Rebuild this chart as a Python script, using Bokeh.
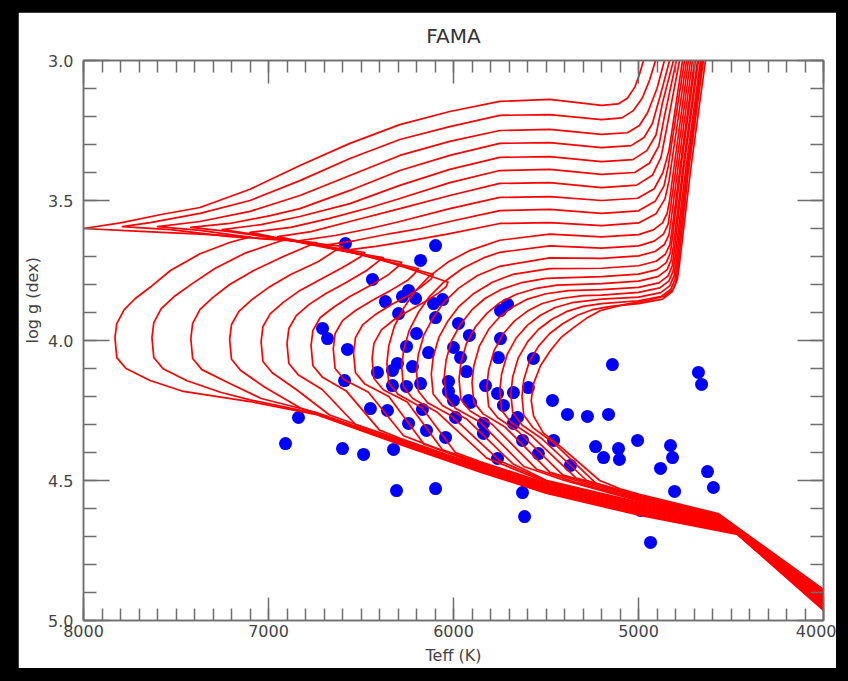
from bokeh.plotting import figure
from bokeh.models import (Range1d, LinearAxis, FixedTicker, NumeralTickFormatter,
                          BasicTickFormatter, CustomJSTickFormatter, Title,
                          GlobalInlineStyleSheet)
from bokeh.embed import file_html
from bokeh.resources import INLINE

# ---------------- data: isochrones (Teff [K], log g [dex]) ----------------
iso01_teff = [4000, 4465, 4990, 5500, 5850, 6290, 6740, 7100, 7460, 7640, 7770, 7820, 7830, 7820, 7780, 7720, 7640, 7530, 7370, 7210, 7100, 7370, 7690, 8000, 7800, 7580, 7370, 7100, 6830, 6560, 6290, 6020, 5750, 5480, 5200, 5110, 5060, 5020, 4995, 4973, 4955]
iso01_logg = [4.964, 4.693, 4.625, 4.545, 4.471, 4.371, 4.265, 4.218, 4.182, 4.143, 4.100, 4.061, 3.990, 3.940, 3.890, 3.850, 3.810, 3.750, 3.690, 3.650, 3.630, 3.620, 3.610, 3.600, 3.580, 3.550, 3.525, 3.460, 3.375, 3.296, 3.229, 3.182, 3.146, 3.139, 3.160, 3.155, 3.135, 3.095, 3.050, 3.000, 2.900]
iso02_teff = [4000, 4470, 4990, 5500, 5850, 6290, 6740, 7100, 7260, 7440, 7570, 7620, 7630, 7620, 7580, 7510, 7410, 7290, 7130, 6960, 6910, 7210, 7530, 7790, 7640, 7370, 7100, 6830, 6560, 6290, 6020, 5750, 5480, 5200, 5090, 5030, 4980, 4940, 4908, 4885]
iso02_logg = [4.960, 4.689, 4.621, 4.541, 4.467, 4.367, 4.261, 4.212, 4.185, 4.144, 4.101, 4.061, 3.990, 3.936, 3.886, 3.843, 3.796, 3.743, 3.689, 3.650, 3.640, 3.629, 3.604, 3.593, 3.579, 3.546, 3.500, 3.429, 3.350, 3.282, 3.236, 3.196, 3.193, 3.211, 3.205, 3.180, 3.135, 3.070, 3.000, 2.900]
iso03_teff = [4000, 4475, 4990, 5500, 5850, 6290, 6740, 7040, 7220, 7360, 7410, 7420, 7410, 7370, 7300, 7210, 7080, 6920, 6780, 6740, 7050, 7370, 7600, 7370, 7100, 6830, 6560, 6290, 6020, 5750, 5480, 5200, 5060, 4995, 4950, 4900, 4860, 4840]
iso03_logg = [4.957, 4.686, 4.618, 4.538, 4.463, 4.363, 4.257, 4.207, 4.150, 4.104, 4.064, 3.993, 3.939, 3.889, 3.846, 3.800, 3.750, 3.700, 3.661, 3.650, 3.636, 3.607, 3.593, 3.575, 3.539, 3.482, 3.411, 3.339, 3.289, 3.250, 3.246, 3.264, 3.258, 3.232, 3.185, 3.100, 3.000, 2.900]
iso04_teff = [4000, 4480, 4990, 5500, 5850, 6290, 6830, 7020, 7150, 7200, 7210, 7200, 7160, 7090, 7000, 6880, 6730, 6640, 6600, 6880, 7210, 7420, 7210, 6990, 6830, 6560, 6290, 6020, 5750, 5480, 5200, 5040, 4970, 4925, 4880, 4832, 4812]
iso04_logg = [4.953, 4.682, 4.614, 4.534, 4.460, 4.360, 4.240, 4.167, 4.107, 4.067, 3.996, 3.943, 3.896, 3.854, 3.811, 3.764, 3.718, 3.679, 3.664, 3.643, 3.611, 3.596, 3.582, 3.554, 3.529, 3.464, 3.393, 3.339, 3.296, 3.293, 3.311, 3.304, 3.275, 3.225, 3.120, 3.000, 2.900]
iso05_teff = [4000, 4485, 4990, 5500, 5850, 6290, 6670, 6850, 6980, 7030, 7040, 7030, 6990, 6920, 6830, 6710, 6590, 6500, 6480, 6720, 7040, 7250, 7040, 6830, 6560, 6290, 6020, 5750, 5480, 5200, 5030, 4955, 4905, 4870, 4811, 4791]
iso05_logg = [4.950, 4.679, 4.611, 4.531, 4.456, 4.356, 4.266, 4.175, 4.115, 4.075, 4.004, 3.950, 3.904, 3.864, 3.821, 3.779, 3.736, 3.700, 3.686, 3.661, 3.625, 3.604, 3.586, 3.557, 3.511, 3.446, 3.389, 3.346, 3.343, 3.361, 3.354, 3.322, 3.265, 3.150, 3.000, 2.900]
iso06_teff = [4000, 4490, 4990, 5500, 5850, 6290, 6530, 6710, 6840, 6890, 6900, 6890, 6850, 6780, 6690, 6580, 6470, 6400, 6380, 6610, 6910, 7100, 6880, 6670, 6450, 6290, 6020, 5750, 5480, 5200, 5020, 4940, 4890, 4860, 4795, 4775]
iso06_logg = [4.946, 4.675, 4.607, 4.527, 4.453, 4.353, 4.300, 4.175, 4.122, 4.082, 4.011, 3.957, 3.911, 3.871, 3.832, 3.793, 3.750, 3.714, 3.704, 3.679, 3.639, 3.614, 3.596, 3.564, 3.525, 3.493, 3.436, 3.393, 3.389, 3.407, 3.400, 3.366, 3.305, 3.200, 3.000, 2.900]
iso07_teff = [4000, 4495, 4990, 5500, 5850, 6290, 6400, 6580, 6710, 6760, 6770, 6760, 6720, 6650, 6560, 6450, 6350, 6300, 6280, 6500, 6770, 6950, 6770, 6560, 6290, 6020, 5750, 5480, 5200, 5010, 4925, 4878, 4850, 4778, 4758]
iso07_logg = [4.943, 4.672, 4.604, 4.524, 4.449, 4.349, 4.320, 4.180, 4.130, 4.090, 4.018, 3.964, 3.918, 3.882, 3.843, 3.804, 3.764, 3.736, 3.721, 3.693, 3.654, 3.629, 3.611, 3.575, 3.529, 3.482, 3.439, 3.436, 3.454, 3.445, 3.410, 3.345, 3.250, 3.000, 2.900]
iso08_teff = [4000, 4500, 4990, 5500, 5850, 6270, 6460, 6590, 6640, 6650, 6640, 6600, 6530, 6440, 6340, 6250, 6210, 6190, 6400, 6640, 6830, 6640, 6450, 6290, 6020, 5750, 5480, 5200, 5005, 4915, 4868, 4835, 4762, 4742]
iso08_logg = [4.939, 4.668, 4.600, 4.520, 4.446, 4.340, 4.185, 4.140, 4.100, 4.030, 3.975, 3.929, 3.893, 3.857, 3.821, 3.786, 3.761, 3.743, 3.711, 3.671, 3.643, 3.625, 3.600, 3.575, 3.529, 3.489, 3.486, 3.500, 3.492, 3.458, 3.400, 3.320, 3.000, 2.900]
iso09_teff = [4000, 4505, 4990, 5500, 5850, 6160, 6350, 6480, 6530, 6540, 6530, 6490, 6420, 6330, 6240, 6170, 6120, 6110, 6290, 6530, 6710, 6530, 6340, 6180, 6020, 5750, 5480, 5200, 5000, 4910, 4862, 4840, 4751, 4731]
iso09_logg = [4.935, 4.665, 4.596, 4.516, 4.442, 4.370, 4.200, 4.155, 4.115, 4.045, 3.990, 3.943, 3.906, 3.870, 3.838, 3.806, 3.780, 3.764, 3.732, 3.686, 3.661, 3.643, 3.618, 3.600, 3.575, 3.536, 3.532, 3.546, 3.537, 3.503, 3.448, 3.380, 3.000, 2.900]
iso10_teff = [4000, 4510, 4990, 5500, 5850, 6060, 6250, 6380, 6430, 6440, 6430, 6390, 6320, 6230, 6150, 6080, 6040, 6030, 6180, 6420, 6600, 6420, 6230, 6020, 5750, 5480, 5200, 5000, 4905, 4857, 4835, 4740, 4720]
iso10_logg = [4.932, 4.661, 4.593, 4.513, 4.438, 4.390, 4.220, 4.176, 4.136, 4.065, 4.010, 3.962, 3.925, 3.889, 3.860, 3.830, 3.808, 3.792, 3.757, 3.704, 3.679, 3.664, 3.643, 3.618, 3.582, 3.579, 3.590, 3.580, 3.547, 3.494, 3.430, 3.000, 2.900]
iso11_teff = [4000, 4515, 4990, 5500, 5850, 5990, 6170, 6300, 6350, 6360, 6350, 6320, 6270, 6210, 6130, 6030, 5910, 5750, 5480, 5200, 5000, 4920, 4870, 4845, 4832, 4812, 4771, 4730, 4710]
iso11_logg = [4.928, 4.657, 4.589, 4.509, 4.434, 4.400, 4.240, 4.192, 4.151, 4.080, 4.020, 3.950, 3.885, 3.826, 3.770, 3.720, 3.678, 3.642, 3.620, 3.630, 3.622, 3.605, 3.580, 3.545, 3.500, 3.400, 3.200, 3.000, 2.900]
iso12_teff = [4000, 4520, 4990, 5500, 5820, 6090, 6220, 6270, 6280, 6270, 6240, 6190, 6130, 6050, 5950, 5830, 5750, 5480, 5200, 5000, 4915, 4865, 4840, 4830, 4801, 4760, 4719, 4699]
iso12_logg = [4.925, 4.654, 4.586, 4.506, 4.420, 4.255, 4.207, 4.166, 4.095, 4.035, 3.965, 3.900, 3.843, 3.790, 3.742, 3.703, 3.685, 3.662, 3.670, 3.662, 3.645, 3.620, 3.585, 3.540, 3.400, 3.200, 3.000, 2.900]
iso13_teff = [4000, 4525, 4990, 5500, 5750, 6010, 6140, 6190, 6200, 6190, 6160, 6110, 6050, 5970, 5870, 5750, 5480, 5200, 5000, 4910, 4860, 4835, 4825, 4790, 4749, 4708, 4688]
iso13_logg = [4.921, 4.650, 4.582, 4.502, 4.430, 4.270, 4.222, 4.181, 4.110, 4.050, 3.980, 3.918, 3.862, 3.812, 3.768, 3.735, 3.705, 3.707, 3.698, 3.682, 3.657, 3.622, 3.575, 3.400, 3.200, 3.000, 2.900]
iso14_teff = [4000, 4530, 4990, 5500, 5680, 5930, 6060, 6110, 6120, 6110, 6080, 6030, 5970, 5890, 5790, 5680, 5480, 5200, 5000, 4905, 4855, 4830, 4820, 4779, 4738, 4697, 4677]
iso14_logg = [4.918, 4.646, 4.579, 4.499, 4.440, 4.280, 4.232, 4.191, 4.120, 4.060, 3.990, 3.930, 3.878, 3.832, 3.792, 3.764, 3.743, 3.742, 3.733, 3.717, 3.692, 3.657, 3.610, 3.400, 3.200, 3.000, 2.900]
iso15_teff = [4000, 4535, 4990, 5400, 5620, 5860, 5990, 6040, 6050, 6040, 6010, 5960, 5900, 5830, 5740, 5630, 5500, 5200, 5000, 4900, 4850, 4828, 4818, 4774, 4733, 4692, 4672]
iso15_logg = [4.914, 4.643, 4.575, 4.500, 4.450, 4.290, 4.242, 4.201, 4.130, 4.070, 4.000, 3.940, 3.890, 3.850, 3.817, 3.793, 3.778, 3.772, 3.763, 3.747, 3.722, 3.687, 3.640, 3.400, 3.200, 3.000, 2.900]
iso16_teff = [4000, 4540, 4990, 5350, 5550, 5790, 5910, 5960, 5970, 5960, 5930, 5880, 5820, 5750, 5660, 5560, 5440, 5200, 5000, 4895, 4845, 4823, 4812, 4763, 4722, 4681, 4661]
iso16_logg = [4.911, 4.639, 4.571, 4.505, 4.460, 4.300, 4.252, 4.211, 4.140, 4.080, 4.010, 3.950, 3.903, 3.865, 3.835, 3.815, 3.802, 3.797, 3.788, 3.772, 3.747, 3.712, 3.665, 3.400, 3.200, 3.000, 2.900]
iso17_teff = [4000, 4545, 4990, 5300, 5480, 5720, 5840, 5890, 5900, 5890, 5860, 5810, 5750, 5680, 5600, 5500, 5380, 5200, 5000, 4890, 4840, 4818, 4808, 4758, 4717, 4676, 4656]
iso17_logg = [4.907, 4.636, 4.568, 4.508, 4.470, 4.310, 4.262, 4.221, 4.150, 4.090, 4.020, 3.960, 3.915, 3.880, 3.852, 3.833, 3.822, 3.818, 3.810, 3.794, 3.769, 3.734, 3.687, 3.400, 3.200, 3.000, 2.900]
iso18_teff = [4000, 4550, 4990, 5250, 5410, 5650, 5760, 5810, 5820, 5810, 5780, 5730, 5670, 5600, 5520, 5420, 5300, 5200, 5000, 4885, 4835, 4813, 4803, 4747, 4706, 4665, 4645]
iso18_logg = [4.904, 4.632, 4.564, 4.512, 4.480, 4.325, 4.277, 4.236, 4.165, 4.105, 4.035, 3.975, 3.930, 3.895, 3.868, 3.850, 3.840, 3.838, 3.828, 3.812, 3.787, 3.752, 3.705, 3.400, 3.200, 3.000, 2.900]
iso19_teff = [4000, 4555, 4990, 5200, 5340, 5580, 5690, 5740, 5750, 5740, 5710, 5660, 5600, 5530, 5450, 5360, 5200, 5000, 4880, 4830, 4808, 4798, 4741, 4700, 4659, 4639]
iso19_logg = [4.900, 4.629, 4.561, 4.516, 4.490, 4.340, 4.292, 4.249, 4.180, 4.120, 4.050, 3.990, 3.945, 3.910, 3.882, 3.865, 3.852, 3.845, 3.829, 3.804, 3.769, 3.722, 3.400, 3.200, 3.000, 2.900]
iso20_teff = [4000, 4560, 4990, 5150, 5280, 5520, 5630, 5680, 5690, 5680, 5650, 5600, 5540, 5470, 5390, 5300, 5200, 5000, 4875, 4825, 4803, 4793, 4736, 4695, 4654, 4634]
iso20_logg = [4.896, 4.625, 4.557, 4.525, 4.500, 4.352, 4.302, 4.257, 4.190, 4.130, 4.062, 4.005, 3.960, 3.925, 3.897, 3.878, 3.868, 3.858, 3.842, 3.817, 3.782, 3.735, 3.400, 3.200, 3.000, 2.900]
iso21_teff = [4000, 4565, 4990, 5100, 5230, 5460, 5570, 5620, 5630, 5620, 5590, 5540, 5480, 5410, 5330, 5250, 5150, 5000, 4870, 4820, 4798, 4788, 4731, 4690, 4649, 4629]
iso21_logg = [4.893, 4.622, 4.554, 4.535, 4.510, 4.365, 4.312, 4.267, 4.200, 4.140, 4.075, 4.020, 3.975, 3.940, 3.910, 3.890, 3.878, 3.868, 3.852, 3.827, 3.792, 3.745, 3.400, 3.200, 3.000, 2.900]
iso22_teff = [4000, 4570, 4990, 5100, 5210, 5420, 5515, 5567, 5580, 5567, 5530, 5476, 5420, 5351, 5280, 5205, 5080, 4951, 4860, 4812, 4790, 4780, 4720, 4679, 4638, 4618]
iso22_logg = [4.889, 4.618, 4.550, 4.530, 4.500, 4.380, 4.330, 4.270, 4.214, 4.154, 4.090, 4.036, 3.990, 3.954, 3.920, 3.893, 3.872, 3.857, 3.842, 3.817, 3.782, 3.735, 3.400, 3.200, 3.000, 2.900]

# ---------------- data: observed stars ----------------
star_teff = [6584, 6097, 6178, 6438, 6243, 6276, 6205, 6368, 6108, 6059, 6297, 6097, 5973, 6708, 6681,
             6200, 5914, 6254, 6573, 6000, 6135, 5962, 6303, 6222, 6411, 6330, 5930, 6589, 6330, 6254,
             6178, 6027, 6027, 5919, 6449, 6357, 6168, 5989, 6838, 6243, 6146, 6043, 6908, 6600, 6486,
             6324, 5746, 5708, 5746, 5757, 5568, 5827, 5762, 5676, 5595, 5908, 5730, 5654, 5676, 5838,
             6000, 5838, 5627, 5465, 5384, 5276, 5162, 5459, 5368, 5541, 5762, 5141, 4676, 4659, 5232,
             5189, 5108, 5103, 5005, 4827, 4816, 4881, 4627, 4595, 4805, 4935, 4989, 6097, 5627, 5616,
             6308]
star_logg = [3.654, 3.661, 3.714, 3.782, 3.821, 3.843, 3.850, 3.861, 3.868, 3.854, 3.904, 3.918, 3.939, 3.957, 3.993,
             3.975, 3.982, 4.021, 4.032, 4.025, 4.043, 4.061, 4.082, 4.093, 4.114, 4.107, 4.111, 4.143, 4.161, 4.164,
             4.154, 4.146, 4.182, 4.214, 4.243, 4.250, 4.246, 4.275, 4.275, 4.296, 4.321, 4.346, 4.368, 4.386, 4.407,
             4.389, 3.893, 3.871, 3.993, 4.061, 4.064, 4.161, 4.189, 4.186, 4.168, 4.221, 4.232, 4.275, 4.296, 4.296,
             4.214, 4.332, 4.357, 4.214, 4.264, 4.271, 4.264, 4.357, 4.446, 4.404, 4.421, 4.086, 4.114, 4.157, 4.379,
             4.418, 4.386, 4.425, 4.357, 4.375, 4.418, 4.457, 4.468, 4.525, 4.539, 4.721, 4.607, 4.529, 4.543, 4.629,
             4.536]

x_major = [4000, 5000, 6000, 7000, 8000]
y_major = [3.0, 3.5, 4.0, 4.5, 5.0]

iso_teff = [iso01_teff, iso02_teff, iso03_teff, iso04_teff, iso05_teff, iso06_teff, iso07_teff, iso08_teff,
            iso09_teff, iso10_teff, iso11_teff, iso12_teff, iso13_teff, iso14_teff, iso15_teff, iso16_teff,
            iso17_teff, iso18_teff, iso19_teff, iso20_teff, iso21_teff, iso22_teff]
iso_logg = [iso01_logg, iso02_logg, iso03_logg, iso04_logg, iso05_logg, iso06_logg, iso07_logg, iso08_logg,
            iso09_logg, iso10_logg, iso11_logg, iso12_logg, iso13_logg, iso14_logg, iso15_logg, iso16_logg,
            iso17_logg, iso18_logg, iso19_logg, iso20_logg, iso21_logg, iso22_logg]

FONT = "DejaVu Sans"
AX = "#6e6e6e"
TXT = "#444444"

p = figure(width=818, height=656, x_range=Range1d(8000, 4000), y_range=Range1d(5.0, 3.0),
           output_backend="svg", toolbar_location=None,
           min_border_left=65, min_border_right=13, min_border_top=48, min_border_bottom=48,
           background_fill_color="white", border_fill_color="white",
           x_axis_label="Teff (K)", y_axis_label=None)
p.xgrid.visible = False
p.ygrid.visible = False
p.outline_line_color = AX
p.outline_line_width = 1.5

p.title.text = "FAMA"
p.title.align = "center"
p.title.vertical_align = "top"
p.title.standoff = 22
p.title.text_font = FONT
p.title.text_font_size = "20px"
p.title.text_font_style = "normal"
p.title.text_color = "#333333"

xt = FixedTicker(ticks=x_major, minor_ticks=list(range(4000, 8001, 100)))
yt = FixedTicker(ticks=y_major, minor_ticks=[3.0 + k * 0.1 for k in range(21)])

def style_axis(ax, major_in, minor_in):
    ax.axis_line_color = AX
    ax.axis_line_width = 1.5
    ax.major_tick_line_color = AX
    ax.minor_tick_line_color = AX
    ax.major_tick_line_width = 1.5
    ax.minor_tick_line_width = 1.5
    ax.major_tick_in = major_in
    ax.major_tick_out = 0
    ax.minor_tick_in = minor_in
    ax.minor_tick_out = 0
    ax.major_label_text_font = FONT
    ax.major_label_text_font_size = "16px"
    ax.major_label_text_color = TXT
    ax.axis_label_text_font = FONT
    ax.axis_label_text_font_size = "16px"
    ax.axis_label_text_font_style = "normal"
    ax.axis_label_text_color = TXT

xa = p.xaxis[0]
xa.ticker = xt
xa.formatter = BasicTickFormatter(use_scientific=False)
style_axis(xa, 23, 12)
xa.major_label_standoff = 4
xa.axis_label_standoff = 6

ya = p.yaxis[0]
ya.ticker = yt
ya.formatter = NumeralTickFormatter(format="0.0")
style_axis(ya, 26, 13)
ya.major_label_standoff = 10

blank = CustomJSTickFormatter(code="return ''")
top = LinearAxis(ticker=xt, formatter=blank)
style_axis(top, 23, 12)
top.major_label_text_font_size = "1px"
top.major_label_standoff = 0
p.add_layout(top, "above")
right = LinearAxis(ticker=yt, formatter=blank)
style_axis(right, 26, 13)
right.major_label_text_font_size = "1px"
right.major_label_standoff = 0
p.add_layout(right, "right")

ytitle = Title(text="log g (dex)", align="left", offset=277, vertical_align="middle", standoff=6,
               text_font=FONT, text_font_size="16px", text_font_style="normal", text_color=TXT)
p.add_layout(ytitle, "left")

p.scatter(star_teff, star_logg, marker="circle", size=13, fill_color="#0000ff", line_color=None)
p.multi_line(iso_teff, iso_logg, line_color="#ff0000", line_width=1.7, line_join="round")

p.stylesheets = [GlobalInlineStyleSheet(css="html, body { background-color: #000000; margin: 0; }")]
p.styles = {"margin-left": "18px", "margin-top": "12px"}

open("out.html", "w").write(file_html(p, INLINE))
